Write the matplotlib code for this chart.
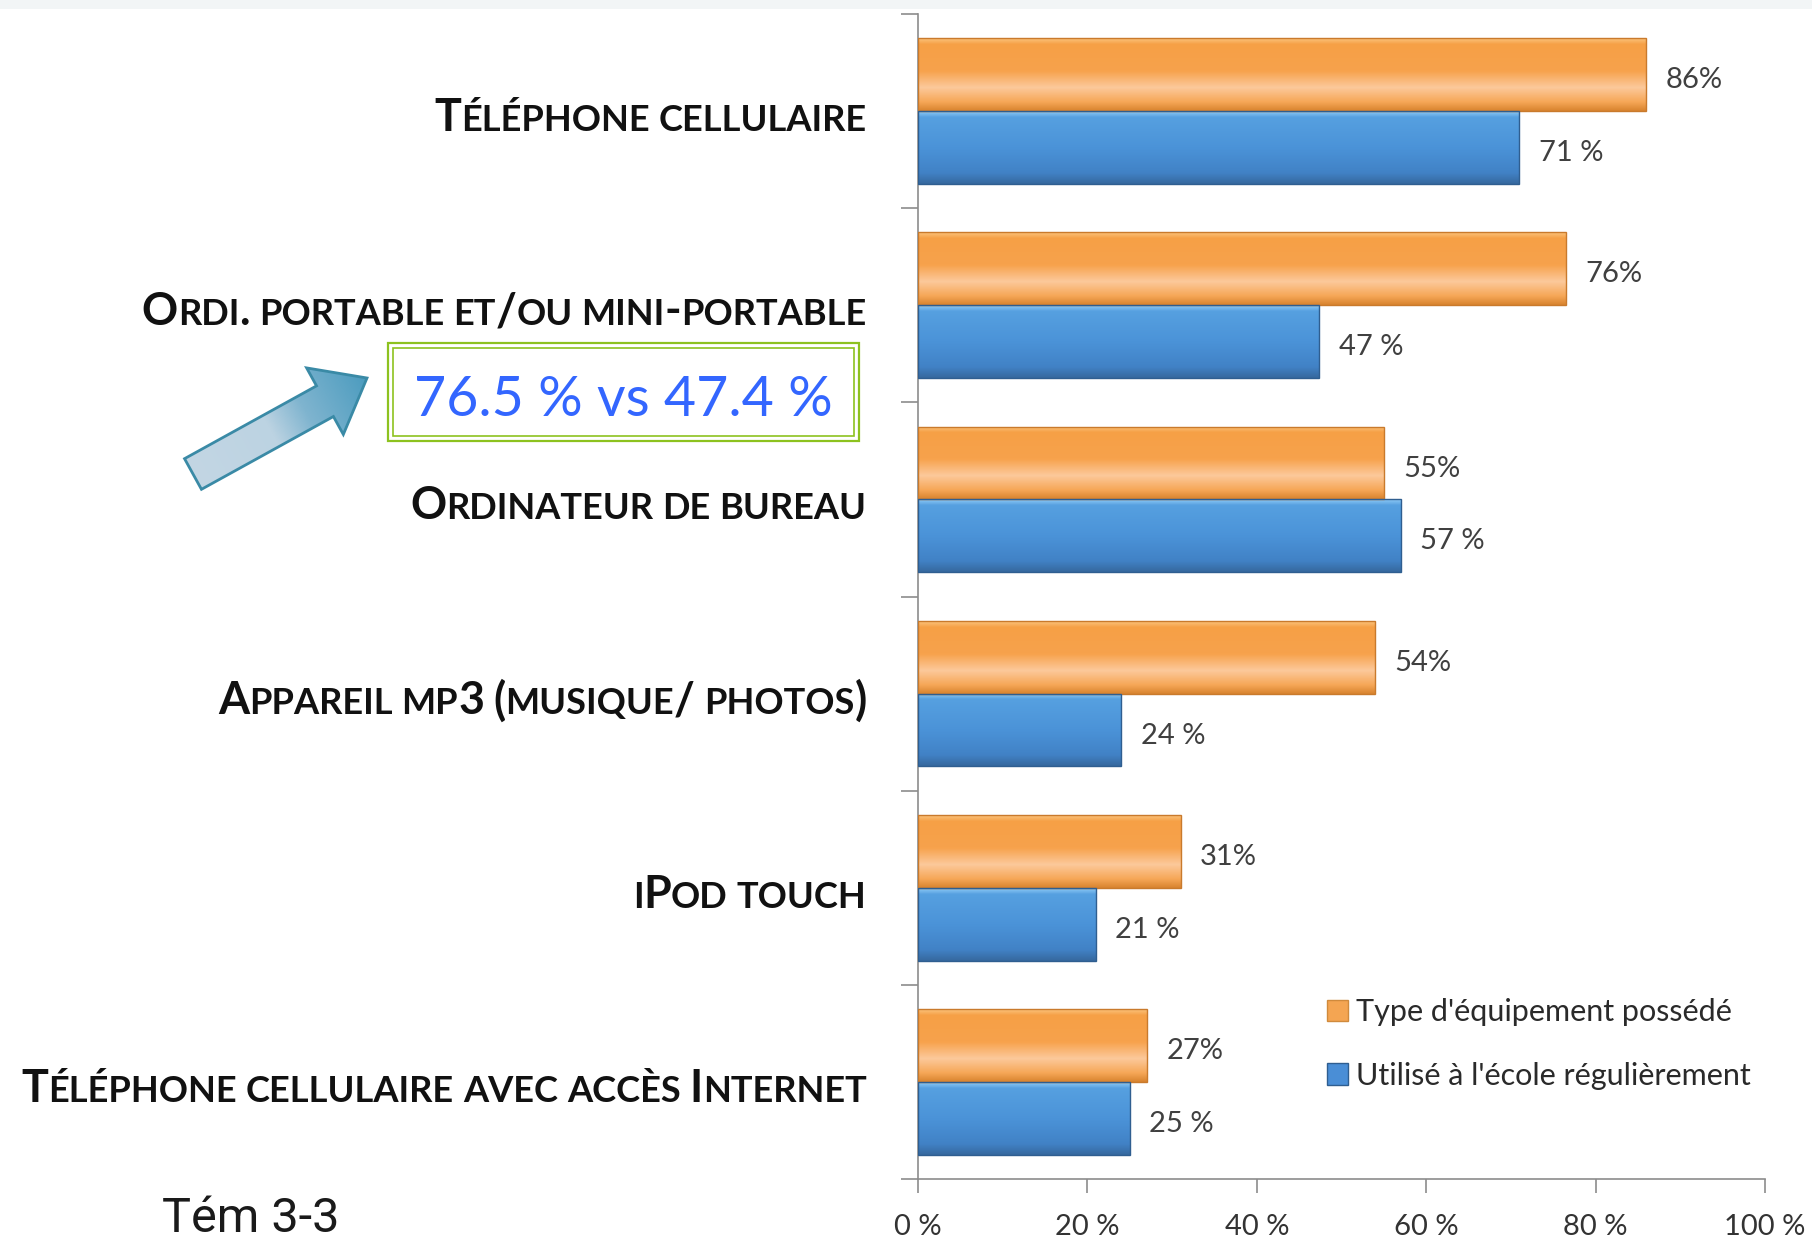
import numpy as np
import matplotlib
matplotlib.use("Agg")
import matplotlib.pyplot as plt
from matplotlib.colors import LinearSegmentedColormap
from matplotlib.patches import Rectangle, FancyArrow, Patch
from matplotlib.offsetbox import TextArea, HPacker, AnnotationBbox

categories = ["Téléphone cellulaire", "Ordi. portable et/ou mini-portable",
              "Ordinateur de bureau", "Appareil mp3 (musique/ photos)",
              "iPod touch", "Téléphone cellulaire avec accès Internet"]
owned = [86, 76.5, 55, 54, 31, 27]
owned_labels = ["86%", "76%", "55%", "54%", "31%", "27%"]
school = [71, 47.4, 57, 24, 21, 25]
school_labels = ["71 %", "47 %", "57 %", "24 %", "21 %", "25 %"]
xticks = [0, 20, 40, 60, 80, 100]
xtick_labels = ["0 %", "20 %", "40 %", "60 %", "80 %", "100 %"]
legend_labels = ["Type d'équipement possédé", "Utilisé à l'école régulièrement"]
callout = "76.5 % vs 47.4 %"
footer = "Tém 3-3"

W, H = 1812, 1239
fig = plt.figure(figsize=(W / 100, H / 100), dpi=100)
ax = fig.add_axes([918 / W, 1 - 1179 / H, (1765 - 918) / W, (1179 - 14) / H])

y = np.arange(len(categories))
bh = 0.375
bars_o = ax.barh(y - bh / 2, owned, height=bh, color="none", edgecolor="#c97a2c", lw=1, zorder=3)
bars_b = ax.barh(y + bh / 2, school, height=bh, color="none", edgecolor="#2f5e90", lw=1, zorder=3)

cm_o = LinearSegmentedColormap.from_list("o", [(0, "#fcc27a"), (0.08, "#f6a046"), (0.45, "#f7a24c"),
                                               (0.68, "#fcc99b"), (0.88, "#f6a757"), (1, "#d98530")])
cm_b = LinearSegmentedColormap.from_list("b", [(0, "#8cc8f5"), (0.08, "#56a0e0"), (0.5, "#4b93d8"),
                                               (0.85, "#4182c6"), (1, "#36699f")])
grad = np.linspace(0, 1, 100).reshape(-1, 1)
for bars, cm in ((bars_o, cm_o), (bars_b, cm_b)):
    for p in bars:
        x0, y0, w, h = p.get_x(), p.get_y(), p.get_width(), p.get_height()
        im = ax.imshow(grad, cmap=cm, extent=(x0, x0 + w, y0 + h, y0), aspect="auto",
                       origin="upper", zorder=2, interpolation="bilinear")
        im.set_clip_path(p)

for bars, labs in ((bars_o, owned_labels), (bars_b, school_labels)):
    texts = ax.bar_label(bars, labels=labs, padding=14, fontsize=21, family="Lato", color="#404040")
    for t in texts:
        t.xyann = (t.xyann[0], -4)

ax.set_xlim(0, 100)
ax.set_ylim(len(categories) - 0.5, -0.5)
ax.set_xticks(xticks)
ax.set_xticklabels(xtick_labels, fontsize=21, family="Lato", color="#333333")
ax.set_yticks(np.arange(len(categories) + 1) - 0.5)
ax.set_yticklabels([])
ax.tick_params(axis="x", length=10, width=1.2, color="#8c8c8c", pad=15)
ax.tick_params(axis="y", length=12, width=1.2, color="#8c8c8c")
for s in ("top", "right"):
    ax.spines[s].set_visible(False)
for s in ("left", "bottom"):
    ax.spines[s].set_color("#8c8c8c")
    ax.spines[s].set_linewidth(1.2)


def smallcaps(label, big=32.3, small=26.1):
    words = []
    for word in label.split(" "):
        runs = []
        for ch in word:
            sz = small if ch.islower() else big
            if runs and runs[-1][1] == sz:
                runs[-1][0] += ch.upper()
            else:
                runs.append([ch.upper(), sz])
        parts = [TextArea(t, textprops=dict(fontsize=s, fontweight="bold", family="Lato",
                                            color="#111111")) for t, s in runs]
        words.append(HPacker(children=parts, align="baseline", pad=0, sep=0))
    return HPacker(children=words, align="baseline", pad=0, sep=6.5)


for i, lab in enumerate(categories):
    ab = AnnotationBbox(smallcaps(lab), (0, i), xycoords=("axes fraction", "data"),
                        xybox=(-37, -5), boxcoords="offset points", box_alignment=(1, 0.5),
                        frameon=False, pad=0, annotation_clip=False)
    ax.add_artist(ab)

handles = [Patch(facecolor="#f4a552", edgecolor="#d08a3c"), Patch(facecolor="#4a8ed6", edgecolor="#2f5e90")]
ax.legend(handles, legend_labels, loc="upper left", bbox_to_anchor=(0.483, 0.155), frameon=False,
          borderpad=0, borderaxespad=0, handlelength=0.7, handleheight=0.7, handletextpad=0.25,
          labelspacing=1.15, prop=dict(family="Lato", size=22), labelcolor="#2a2a2a")

# overlay in pixel coordinates for the callout, arrow and footer
ov = fig.add_axes([0, 0, 1, 1], zorder=5)
ov.set_xlim(0, W)
ov.set_ylim(H, 0)
ov.axis("off")
ov.add_patch(Rectangle((0, 0), W, 9, color="#f2f5f6", lw=0))

ov.add_patch(Rectangle((388, 343), 471, 98, fill=False, ec="#8dc21f", lw=1.6))
ov.add_patch(Rectangle((393, 348), 461, 88, fill=False, ec="#8dc21f", lw=1.2))
ov.text(623.5, 400, callout, ha="center", va="center", fontsize=40, family="Lato", color="#3366ff")

tail = np.array([193.0, 474.0])
tip = np.array([367.0, 378.0])
arr = FancyArrow(tail[0], tail[1], tip[0] - tail[0], tip[1] - tail[1], width=35, head_width=76,
                 head_length=48, length_includes_head=True, fc="none", ec="#3a8aa6", lw=2, zorder=3)
ov.add_patch(arr)
gx, gy = np.meshgrid(np.linspace(150, 400, 200), np.linspace(320, 520, 200))
d = (tip - tail) / np.linalg.norm(tip - tail)
t = np.clip(((gx - tail[0]) * d[0] + (gy - tail[1]) * d[1]) / np.linalg.norm(tip - tail), 0, 1)
cm_a = LinearSegmentedColormap.from_list("a", [(0, "#c3d6e4"), (0.45, "#bcd3e2"), (0.65, "#7fb4cf"), (1, "#4c9cbf")])
aim = ov.imshow(t, cmap=cm_a, extent=(150, 400, 520, 320), origin="upper", aspect="auto", zorder=2)
aim.set_clip_path(arr)
ov.set_xlim(0, W)
ov.set_ylim(H, 0)

ov.text(162, 1232, footer, ha="left", va="baseline", fontsize=35, family="Roboto",
        color="#1a1a1a")

fig.savefig("out.png", dpi=100)
